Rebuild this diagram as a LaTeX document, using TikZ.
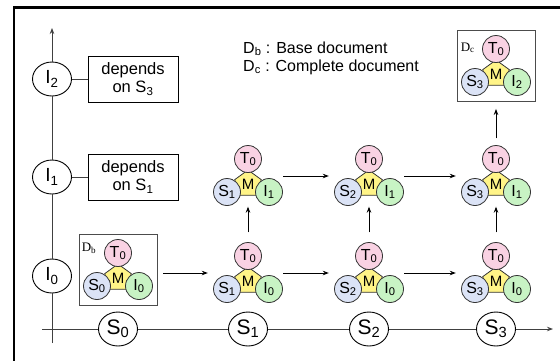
\documentclass[tikz,border=0pt]{standalone}
\usepackage{fontspec}
\setmainfont{Liberation Sans}
\newfontfamily\labelserif{Liberation Serif}
\usetikzlibrary{shapes.geometric,arrows.meta}

\definecolor{tpink}{RGB}{249,210,227}
\definecolor{sblue}{RGB}{219,227,246}
\definecolor{igreen}{RGB}{200,243,196}
\definecolor{myellow}{RGB}{255,244,135}

% parts of one document around a (cluster) node: M in the middle, T, S and I around it
\newcommand{\docparts}[3]{%
	\node[mpart] (#1-m) at ([shift={(0,8)}]#1.center) {M};
	\node[docpart, fill=tpink] (#1-t) at ([shift={(0,-17)}]#1.center) {T\textsubscript{0}};
	\node[docpart, fill=sblue] (#1-s) at ([shift={(-21,16)}]#1.center) {S\textsubscript{#2}};
	\node[docpart, fill=igreen] (#1-i) at ([shift={(21,16)}]#1.center) {I\textsubscript{#3}};
}

\begin{document}
\begin{tikzpicture}[x=1pt, y=-1pt, >={Stealth[length=6pt,width=4.5pt]}]
		% Styles for axes, boxes and document parts
		\tikzset{
			axisline/.style={line width=0.9pt, black!75},
			ellnode/.style={ellipse, draw, line width=0.9pt, fill=white, minimum width=39pt, minimum height=34pt, inner sep=0pt},
			depbox/.style={draw, line width=0.9pt, minimum width=90pt, minimum height=46pt, inner sep=0pt, align=center, font=\fontsize{16.5}{18}\selectfont},
			cluster/.style={minimum width=70pt, minimum height=61pt, inner sep=0pt},
			docframe/.style={cluster, draw=black!70, line width=0.9pt, minimum width=78pt, minimum height=71pt},
			docpart/.style={circle, draw=black!80, line width=0.8pt, minimum size=27pt, inner sep=0pt, font=\fontsize{16}{16}\selectfont},
			mpart/.style={regular polygon, regular polygon sides=5, draw=black!80, line width=0.8pt, fill=myellow, minimum size=28pt, inner sep=0pt, font=\fontsize{15}{15}\selectfont},
			doclabel/.style={inner sep=0pt, font=\labelserif\fontsize{13}{13}\selectfont},
			legend/.style={inner sep=0pt, font=\fontsize{16}{16}\selectfont}
		}
		\useasboundingbox (0,0) rectangle (560,360);
		\clip (0,0) rectangle (560,360);
		
		% Frame round the picture
		\draw[line width=2.7pt] (14,7.3) rectangle (620,420);
		
		% Nodes on the two axes
		\node[ellnode, font=\fontsize{21}{21}\selectfont] (s0) at (118,329) {S\textsubscript{0}};
		\node[ellnode, font=\fontsize{21}{21}\selectfont] (s1) at (248,329) {S\textsubscript{1}};
		\node[ellnode, font=\fontsize{21}{21}\selectfont] (s2) at (369,329) {S\textsubscript{2}};
		\node[ellnode, font=\fontsize{21}{21}\selectfont] (s3) at (496,329) {S\textsubscript{3}};
		\node[ellnode, font=\fontsize{19}{19}\selectfont] (i0) at (52,276) {I\textsubscript{0}};
		\node[ellnode, font=\fontsize{19}{19}\selectfont] (i1) at (52,177) {I\textsubscript{1}};
		\node[ellnode, font=\fontsize{19}{19}\selectfont] (i2) at (52,79) {I\textsubscript{2}};
		\coordinate (xstart) at (42,329);
		\coordinate (xend) at (553,329);
		\coordinate (ystart) at (52,343);
		\coordinate (yend) at (52,28);
		
		% Draw the axes through the nodes
		\draw[axisline,->] (xstart) -- (s0) -- (s1) -- (s2) -- (s3) -- (xend);
		\draw[axisline,->] (ystart) -- (i0) -- (i1) -- (i2) -- (yend);
		
		% Dependency boxes
		\node[depbox] (dep1) at (133,177) {depends\\on S\textsubscript{1}};
		\node[depbox] (dep2) at (133,79) {depends\\on S\textsubscript{3}};
		\draw[axisline] (i1) -- (dep1);
		\draw[axisline] (i2) -- (dep2);
		
		% Legend
		\node[legend, anchor=base west] (lgb) at (243,53) {D\textsubscript{b} : Base document};
		\node[legend, anchor=base west] (lgc) at (243,71) {D\textsubscript{c} : Complete document};
		
		% Base and complete documents
		\node[docframe] (db) at (118,270) {};
		\docparts{db}{0}{0}
		\node[doclabel, anchor=base west] (dblabel) at ([shift={(3,17)}]db.north west) {D\textsubscript{b}};
		\node[docframe] (dc) at (496,66) {};
		\docparts{dc}{3}{2}
		\node[doclabel, anchor=base west] (dclabel) at ([shift={(4,21)}]dc.north west) {D\textsubscript{c}};
		
		% Documents of the two rows
		\foreach \col/\x in {1/248,2/369,3/496} {
			\node[cluster] (r0c\col) at (\x,273) {};
			\docparts{r0c\col}{\col}{0}
			\node[cluster] (r1c\col) at (\x,176) {};
			\docparts{r1c\col}{\col}{1}
		}
		
		% Arrows between documents
		\draw[->, line width=0.8pt, shorten <=6pt, shorten >=5pt] (db.east |- r0c1.west) -- (r0c1);
		\draw[->, line width=0.8pt, shorten >=5pt] (r0c1) -- (r0c2);
		\draw[->, line width=0.8pt, shorten >=5pt] (r0c2) -- (r0c3);
		\draw[->, line width=0.8pt, shorten >=5pt] (r1c1) -- (r1c2);
		\draw[->, line width=0.8pt, shorten >=5pt] (r1c2) -- (r1c3);
		\foreach \col in {1,2,3}
			\draw[->, line width=0.8pt, shorten <=10pt] (r0c\col) -- (r1c\col);
		\draw[->, line width=0.8pt, shorten <=7pt, shorten >=7pt] (r1c3) -- (dc);
	\end{tikzpicture}
\end{document}
